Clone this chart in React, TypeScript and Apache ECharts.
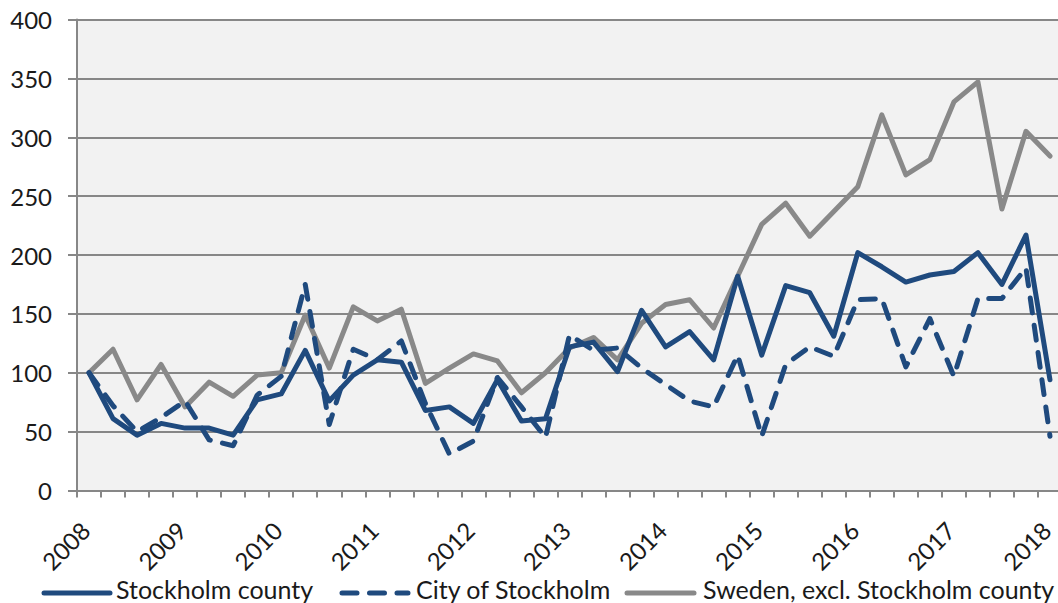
import React, { useEffect, useRef } from "react";
import * as echarts from "echarts";

const years = ["2008", "2009", "2010", "2011", "2012", "2013", "2014", "2015", "2016", "2017", "2018"];
const quarters = ["Q1", "Q2", "Q3", "Q4"];
const categories: string[] = [];
years.forEach((y) => quarters.forEach((q) => categories.push(y + " " + q)));
categories.splice(41);

const seriesNames = ["Stockholm county", "City of Stockholm", "Sweden, excl. Stockholm county"];
const stockholmCounty = [100, 61, 47, 57, 53, 53, 47, 77, 82, 119, 76, 98, 111, 109, 68, 71, 57, 94, 59, 61, 122, 126, 101, 153, 122, 135, 111, 182, 115, 174, 168, 131, 202, 190, 177, 183, 186, 202, 175, 217, 94];
const cityOfStockholm = [100, 72, 50, 62, 76, 43, 38, 81, 97, 175, 56, 120, 111, 127, 74, 31, 42, 96, 71, 45, 132, 119, 121, 104, 90, 76, 71, 115, 46, 107, 122, 114, 162, 163, 105, 146, 97, 163, 163, 189, 46];
const swedenExcl = [100, 120, 77, 107, 71, 92, 80, 98, 100, 149, 104, 156, 144, 154, 91, 104, 116, 110, 83, 100, 121, 130, 111, 142, 158, 162, 138, 182, 226, 244, 216, 237, 258, 319, 268, 281, 330, 347, 239, 305, 284];

const BLUE = "#1f4a7e";
const GREY = "#898989";
const AXIS = "#878787";
const TEXT = "#1a1a1a";
const FONT = "Lato";
const DASH = [15, 12.5];

function legendItem(name: string, color: string, dashed: boolean, x0: number, x1: number, tx: number) {
  return [
    {
      type: "line",
      shape: { x1: x0, y1: 593, x2: x1, y2: 593 },
      style: { stroke: color, lineWidth: 5, lineCap: "round", lineDash: dashed ? DASH : null },
      silent: true,
    },
    {
      type: "text",
      x: tx,
      y: 589,
      style: { text: name, fill: TEXT, font: `25px ${FONT}`, textAlign: "left", textVerticalAlign: "middle" },
      silent: true,
    },
  ];
}

export default function App() {
  const ref = useRef<HTMLDivElement>(null);
  useEffect(() => {
    if (!ref.current) return;
    const chart = echarts.init(ref.current, undefined, { renderer: "svg" });
    chart.setOption({
      animation: false,
      textStyle: { fontFamily: FONT },
      grid: {
        left: 77,
        right: 4,
        top: 19.5,
        bottom: 112.5,
        show: true,
        backgroundColor: "#f2f2f2",
        borderWidth: 0,
      },
      graphic: [
        ...legendItem(seriesNames[0], BLUE, false, 44, 110, 116),
        ...legendItem(seriesNames[1], BLUE, true, 342, 408, 416),
        ...legendItem(seriesNames[2], GREY, false, 627, 694, 703),
      ],
      xAxis: {
        type: "category",
        data: categories,
        boundaryGap: true,
        axisLine: { show: true, lineStyle: { color: AXIS, width: 2 } },
        axisTick: { show: true, interval: 0, length: 7, lineStyle: { color: AXIS, width: 2 } },
        axisLabel: {
          interval: 3,
          rotate: 45,
          margin: 32,
          padding: [0, 5, 0, 0],
          fontSize: 24,
          fontFamily: FONT,
          color: TEXT,
          formatter: (v: string) => v.slice(0, 4),
        },
        splitLine: { show: false },
      },
      yAxis: {
        type: "value",
        min: 0,
        max: 400,
        interval: 50,
        axisLine: { show: true, lineStyle: { color: AXIS, width: 2 } },
        axisTick: { show: true, length: 9, lineStyle: { color: AXIS, width: 2 } },
        axisLabel: { margin: 25, fontSize: 24, fontFamily: FONT, color: TEXT },
        splitLine: { show: true, lineStyle: { color: AXIS, width: 2 } },
      },
      series: [
        {
          name: seriesNames[0],
          type: "line",
          data: stockholmCounty,
          symbol: "none",
          z: 3,
          itemStyle: { color: BLUE },
          lineStyle: { color: BLUE, width: 5, join: "round", cap: "round" },
        },
        {
          name: seriesNames[1],
          type: "line",
          data: cityOfStockholm,
          symbol: "none",
          z: 2,
          itemStyle: { color: BLUE },
          lineStyle: { color: BLUE, width: 5, type: DASH, join: "round", cap: "round" },
        },
        {
          name: seriesNames[2],
          type: "line",
          data: swedenExcl,
          symbol: "none",
          z: 1,
          itemStyle: { color: GREY },
          lineStyle: { color: GREY, width: 5, join: "round", cap: "round" },
        },
      ],
    });
    return () => chart.dispose();
  }, []);
  return (
    <div style={{ position: "fixed", left: 0, top: 0, width: 1058, height: 603, overflow: "hidden", background: "#fff" }}>
      <div ref={ref} style={{ width: 1066, height: 603 }} />
    </div>
  );
}
